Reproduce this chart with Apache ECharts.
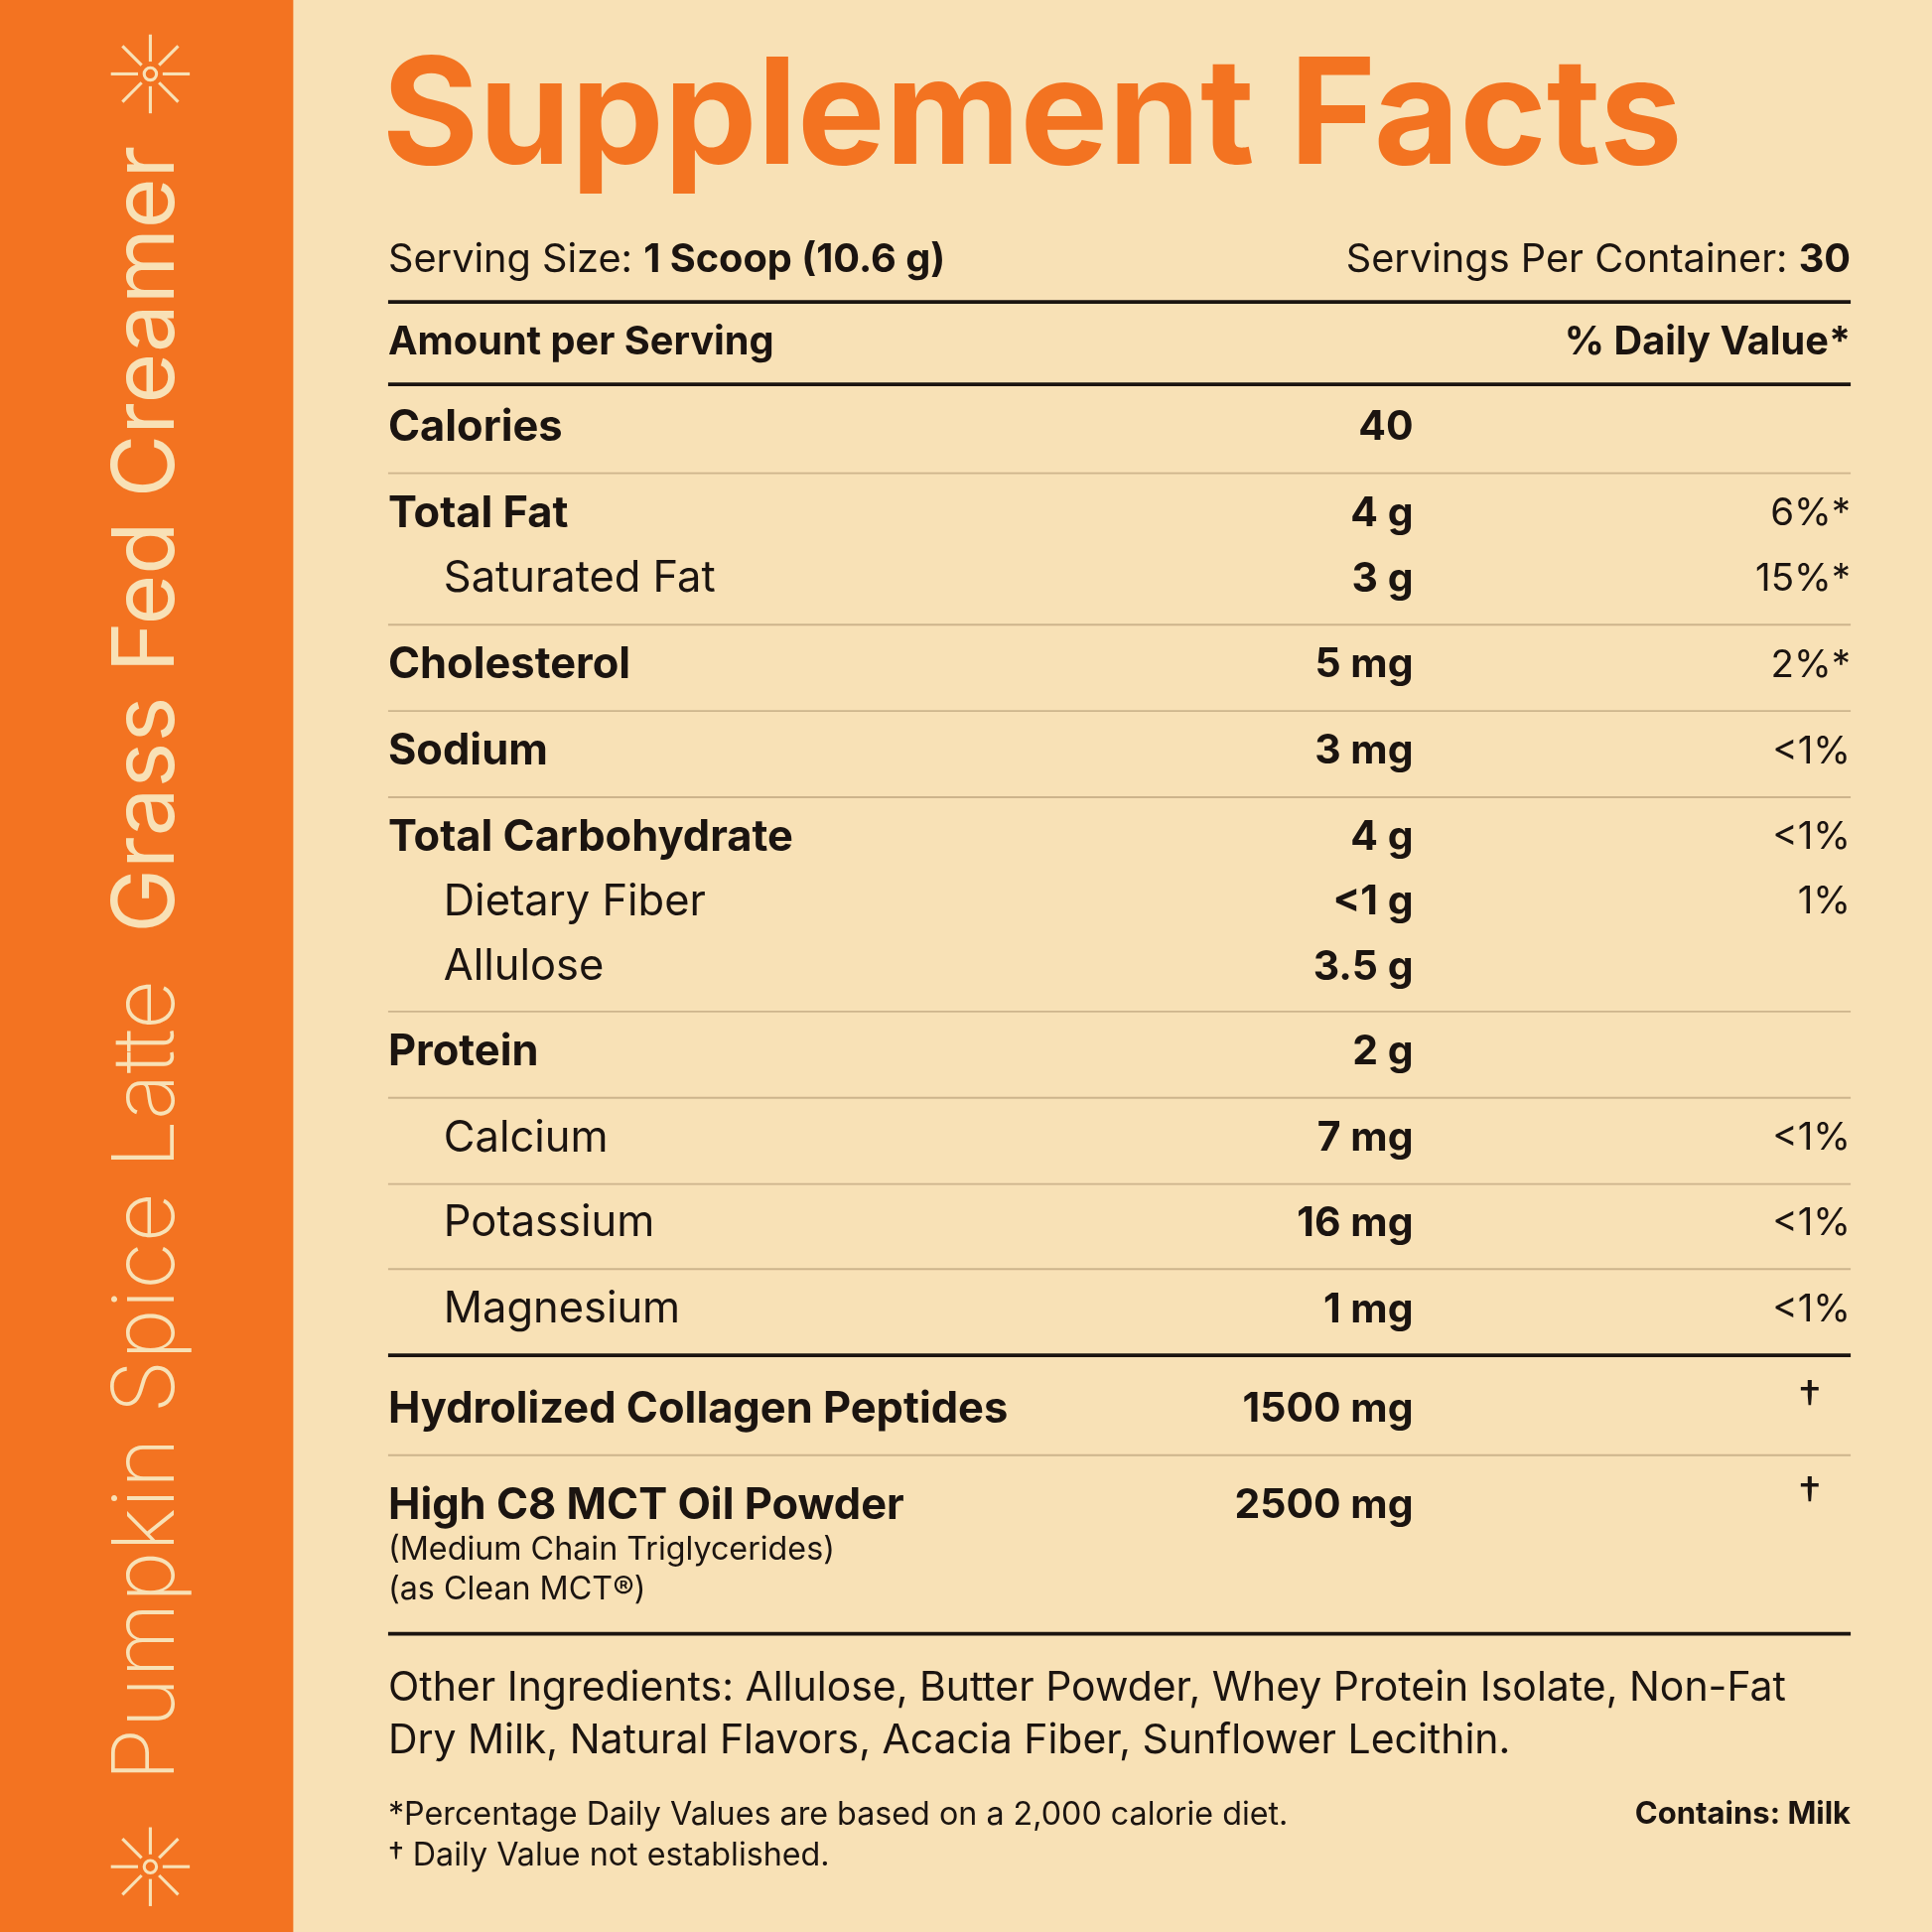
<!DOCTYPE html>
<html><head><meta charset="utf-8">
<script src="https://cdn.jsdelivr.net/npm/echarts@6/dist/echarts.min.js"></script>
<style>html,body{margin:0;padding:0;background:#F8E1B6}#c{width:1946px;height:1946px}</style>
</head><body><div id="c"></div>
<script>
// label data
const title = 'Supplement Facts';
const sideLight = 'Pumpkin Spice Latte';
const sideBold = 'Grass Fed Creamer';
const servingSize = '1 Scoop (10.6 g)';
const servingsPer = '30';
const rowNames = ['Calories','Total Fat','Saturated Fat','Cholesterol','Sodium','Total Carbohydrate','Dietary Fiber','Allulose','Protein','Calcium','Potassium','Magnesium','Hydrolized Collagen Peptides','High C8 MCT Oil Powder'];
const rowAmounts = ['40','4 g','3 g','5 mg','3 mg','4 g','<1 g','3.5 g','2 g','7 mg','16 mg','1 mg','1500 mg','2500 mg'];
const rowDV = ['','6%*','15%*','2%*','<1%','<1%','1%','','','<1%','<1%','<1%','†','†'];
const rowIndent = [0,0,1,0,0,0,1,1,0,1,1,1,0,0];
const rowY = [347,417,470,540,610,680,732,785,854,924,993,1063,1144,1222];
const thinLines = [384,507,577,647,821,891,961,1030,1181];
const thickLines = [245,312,1100,1326];
const mctNotes = ['(Medium Chain Triglycerides)','(as Clean MCT®)'];
const otherIngredients = ['Other Ingredients: Allulose, Butter Powder, Whey Protein Isolate, Non-Fat','Dry Milk, Natural Flavors, Acacia Fiber, Sunflower Lecithin.'];
const footnotes = ['*Percentage Daily Values are based on a 2,000 calorie diet.','† Daily Value not established.'];

const S = 1946/1568;
const ORANGE = '#F37321', CREAM = '#F8E1B6', INK = '#1b1410', RULE = '#CDB48C';
const FONT = 'Inter, "Open Sans", sans-serif';
const g = [];

function txt(x, y, text, size, weight, align, color){
  g.push({type:'text', x:x*S, y:y*S, style:{text, fontSize:size*S, fontWeight:weight, fontFamily:FONT, fill:color||INK, textAlign:align||'left', textVerticalAlign:'middle'}});
}
function hline(y, w, color){
  g.push({type:'line', shape:{x1:315*S, y1:y*S, x2:1502*S, y2:y*S}, style:{stroke:color, lineWidth:w*S}});
}
function sun(cx, cy){
  for(let i=0;i<8;i++){
    const a = i*Math.PI/4;
    g.push({type:'line', shape:{x1:(cx+10*Math.cos(a))*S, y1:(cy+10*Math.sin(a))*S, x2:(cx+32*Math.cos(a))*S, y2:(cy+32*Math.sin(a))*S}, style:{stroke:CREAM, lineWidth:2.5*S}});
  }
  g.push({type:'circle', shape:{cx:cx*S, cy:cy*S, r:5*S}, style:{fill:'none', stroke:CREAM, lineWidth:2.5*S}});
}

g.push({type:'rect', shape:{x:0, y:0, width:238*S, height:1568*S}, style:{fill:ORANGE}});
sun(122, 60); sun(122, 1515);
g.push({type:'text', x:120*S, y:782*S, rotation:Math.PI/2, style:{
  text:'{a|'+sideLight+'}{b|'+sideBold+'}', textAlign:'center', textVerticalAlign:'middle',
  rich:{a:{fontSize:70*S, fontWeight:200, fontFamily:FONT, fill:CREAM}, b:{fontSize:70*S, fontWeight:400, fontFamily:FONT, fill:CREAM, padding:[0,0,0,38*S]}}}});

txt(310, 97, title, 120, 700, 'left', ORANGE);
g.push({type:'text', x:315*S, y:211*S, style:{text:'{r|Serving Size: }{b|'+servingSize+'}', textVerticalAlign:'middle',
  rich:{r:{fontSize:32*S, fontFamily:FONT, fill:INK}, b:{fontSize:32*S, fontWeight:700, fontFamily:FONT, fill:INK}}}});
g.push({type:'text', x:1502*S, y:211*S, style:{text:'{r|Servings Per Container: }{b|'+servingsPer+'}', textAlign:'right', textVerticalAlign:'middle',
  rich:{r:{fontSize:32*S, fontFamily:FONT, fill:INK}, b:{fontSize:32*S, fontWeight:700, fontFamily:FONT, fill:INK}}}});
txt(315, 278, 'Amount per Serving', 32, 700);
txt(1502, 278, '% Daily Value*', 32, 700, 'right');

thickLines.forEach(y => hline(y, 3, INK));
thinLines.forEach(y => hline(y, 1.5, RULE));

rowNames.forEach((n, i) => {
  const ind = rowIndent[i];
  txt(ind ? 360 : 315, rowY[i], n, 35, ind ? 400 : 700);
  txt(1147, rowY[i], rowAmounts[i], 33, 700, 'right');
  if(rowDV[i]) txt(rowDV[i] === '†' ? 1478 : 1502, rowDV[i] === '†' ? rowY[i]-8 : rowY[i], rowDV[i], rowDV[i] === '†' ? 38 : 31, 400, 'right');
});
mctNotes.forEach((t, i) => txt(315, 1258 + i*32, t, 26, 400));
otherIngredients.forEach((t, i) => txt(315, 1370 + i*43, t, 33, 400));
footnotes.forEach((t, i) => txt(315, 1473 + i*33, t, 26, 400));
txt(1502, 1473, 'Contains: Milk', 25, 700, 'right');

const chart = echarts.init(document.getElementById('c'));
chart.setOption({backgroundColor:CREAM, animation:false, graphic:{elements:g}});
</script></body></html>
